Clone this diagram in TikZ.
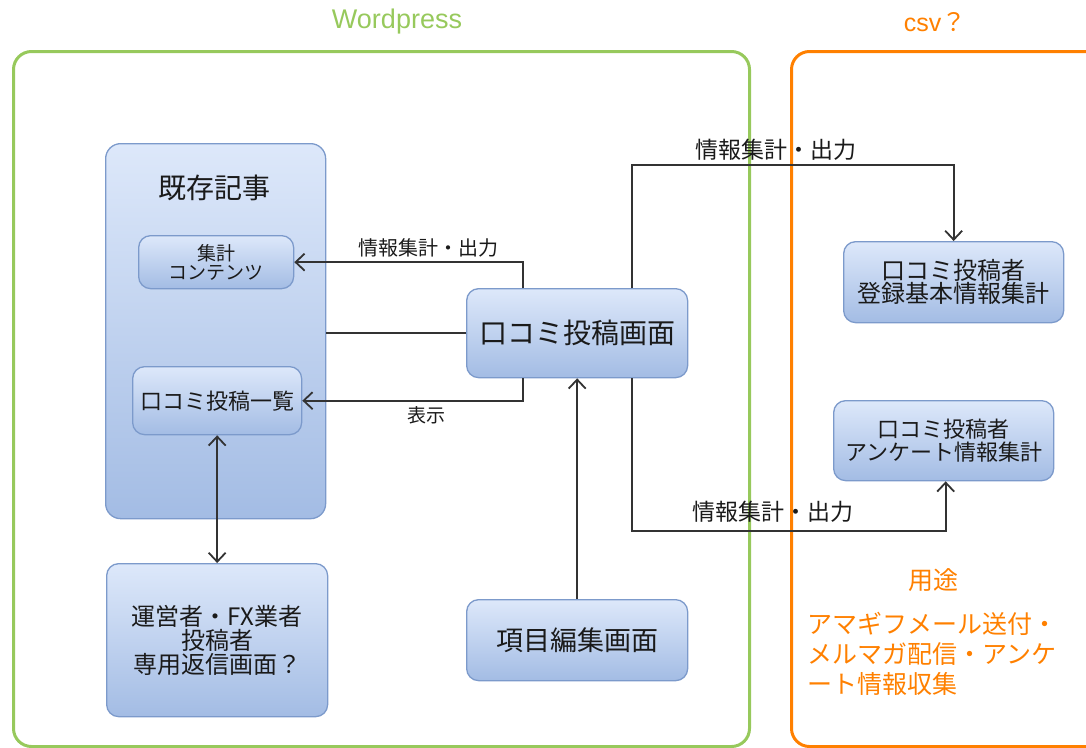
\documentclass[tikz,border=0pt]{standalone}
\usepackage{fontspec}
\setmainfont{Noto Sans CJK JP}
\newfontfamily\latinfont{Liberation Sans}
\usetikzlibrary{arrows.meta,calc}
\definecolor{grn}{HTML}{97C95C}
\definecolor{org}{HTML}{FF8000}
\definecolor{bfill}{HTML}{DDE8FA}
\definecolor{bgrad}{HTML}{A3BCE4}
\definecolor{bstroke}{HTML}{7C9ACB}
\definecolor{txt}{HTML}{1A1A1A}
\definecolor{ln}{HTML}{333333}
\newcommand{\fs}[2]{\fontsize{#1}{#2}\selectfont}
\begin{document}
\begin{tikzpicture}[x=1pt,y=-1pt,
  box/.style={draw=bstroke, line width=1.3pt, rounded corners=12pt, top color=bfill, bottom color=bgrad, text=txt, align=center, inner sep=0pt, anchor=north west},
  container/.style={line width=3pt, rounded corners=18pt, anchor=north west, inner sep=0pt},
  conn/.style={draw=ln, line width=1.8pt},
  arr/.style={conn, -{Straight Barb[length=9pt,width=17pt,line width=1.8pt]}},
  darr/.style={conn, {Straight Barb[length=9pt,width=17pt,line width=1.8pt]}-{Straight Barb[length=9pt,width=17pt,line width=1.8pt]}},
  lbl/.style={text=txt, inner sep=0pt}]
\useasboundingbox (0,0) rectangle (1086,747);
% containers
\node[container, draw=grn, minimum width=736, minimum height=695] (wp) at (12,50) {};
\node[container, draw=org, minimum width=320, minimum height=695] (csv) at (790,50) {};
\node[text=grn, font=\latinfont\fs{27}{30}] (wpl) at (397,22) {Wordpress};
\node[text=org, font=\fs{25}{28}] (csvl) at (935,22) {{\latinfont csv}？};
% boxes
\node[box, minimum width=220, minimum height=375, rounded corners=15pt] (kison) at (105,143) {};
\node[lbl, font=\fs{28}{30}] (kisonl) at (214,188) {既存記事};
\node[box, minimum width=155, minimum height=53, font=\fs{19}{19}] (agg) at (138,235) {集計\\コンテンツ};
\node[box, minimum width=169, minimum height=68, font=\fs{22}{24}] (list) at (132,366) {口コミ投稿一覧};
\node[box, minimum width=221, minimum height=89, font=\fs{28}{30}] (post) at (466,288) {口コミ投稿画面};
\node[box, minimum width=221, minimum height=81, font=\fs{27}{30}] (edit) at (466,599) {項目編集画面};
\node[box, minimum width=221, minimum height=153, font=\fs{24}{24}] (op) at (106,563) {運営者・FX業者\\投稿者\\専用返信画面？};
\node[box, minimum width=220, minimum height=81, font=\fs{24}{23}] (reg) at (843,241) {口コミ投稿者\\登録基本情報集計};
\node[box, minimum width=220, minimum height=80, font=\fs{22}{23}] (ank) at (833,400) {口コミ投稿者\\アンケート情報集計};
% usage text
\node[text=org, font=\fs{25}{28}] (use) at (933,580) {用途};
\node[text=org, font=\fs{25}{30}, align=left, anchor=north west, inner sep=0pt] (usetext) at (807,612) {アマギフメール送付・\\メルマガ配信・アンケ\\ート情報収集};
% connectors
\draw[arr] ([xshift=-54]post.north) |- (agg.east);
\node[lbl, font=\fs{20}{22}] (l1) at (428,248) {情報集計・出力};
\draw[arr] ([xshift=-54]post.south) |- (list.east);
\node[lbl, font=\fs{19}{22}] (l2) at (426,415) {表示};
\draw[conn] (post.west) -- (post.west -| kison.east);
\draw[arr] ([xshift=55]post.north) |- ($(reg.north)+(0,-76)$) -- (reg.north);
\node[lbl, font=\fs{23}{26}] (l3) at (776,150) {情報集計・出力};
\draw[arr] ([xshift=55]post.south) |- ($(ank.south)+(2,50)$) -- ([xshift=2]ank.south);
\node[lbl, font=\fs{23}{26}] (l4) at (773,512) {情報集計・出力};
\draw[arr] (edit.north) -- (post.south);
\draw[darr] (list.south) -- (op.north);
\end{tikzpicture}
\end{document}
